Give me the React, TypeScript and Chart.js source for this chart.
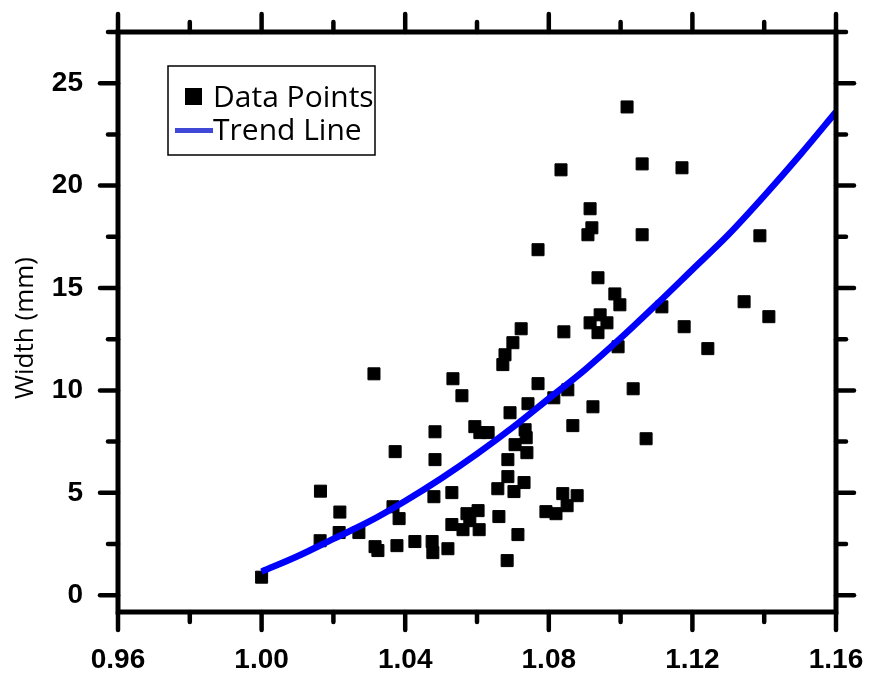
import React, { useEffect, useRef } from "react";
import { Chart, registerables } from "chart.js";

Chart.register(...registerables);

// ---- data ----
const pointX = [
  1.0, 1.0164, 1.0163, 1.0218, 1.0216, 1.0271, 1.0313, 1.0316, 1.0324, 1.0372,
  1.0366, 1.0377, 1.0383, 1.0427, 1.0475, 1.0477, 1.048, 1.0483, 1.0483, 1.0519,
  1.053, 1.053, 1.0533, 1.0558, 1.0572, 1.0603, 1.058, 1.0561, 1.0606, 1.0594,
  1.0608, 1.0631, 1.0658, 1.0661, 1.0672, 1.0678, 1.07, 1.0684, 1.0686, 1.0686,
  1.0692, 1.0703, 1.0714, 1.0706, 1.0723, 1.0734, 1.0731, 1.0737, 1.0739, 1.0742,
  1.077, 1.077, 1.0792, 1.0814, 1.082, 1.0834, 1.0842, 1.0839, 1.0851, 1.0853,
  1.0867, 1.0879, 1.0909, 1.0915, 1.092, 1.0915, 1.0923, 1.0937, 1.0937, 1.0943,
  1.0962, 1.0984, 1.0993, 1.0998, 1.1018, 1.1035, 1.106, 1.106, 1.1071, 1.1115,
  1.1171, 1.1177, 1.1243, 1.1344, 1.1388, 1.1413,
];
const pointY = [
  0.88, 5.08, 2.66, 4.06, 3.06, 3.06, 10.81, 2.37, 2.18, 7.01,
  4.32, 2.42, 3.74, 2.62, 2.62, 2.08, 4.81, 6.62, 7.98, 2.27,
  3.45, 5.01, 10.57, 9.74, 3.98, 4.13, 3.64, 3.2, 3.2, 8.23,
  7.94, 7.94, 5.2, 3.84, 11.26, 11.74, 12.33, 1.69, 5.79, 6.62,
  8.91, 5.06, 2.96, 7.35, 13.01, 8.08, 5.5, 7.69, 6.96, 9.35,
  10.33, 16.87, 4.08, 9.64, 3.98, 20.77, 12.86, 4.96, 4.37, 10.03,
  8.28, 4.86, 17.6, 18.87, 17.94, 13.3, 9.2, 15.5, 12.82, 13.69,
  13.3, 14.71, 12.13, 14.18, 23.84, 10.08, 21.06, 17.6, 7.64, 14.08,
  20.87, 13.11, 12.04, 14.33, 17.55, 13.6,
];
const trendX = [
  1.0, 1.01, 1.02, 1.03, 1.04, 1.05, 1.06, 1.07, 1.08,
  1.09, 1.1, 1.11, 1.12, 1.13, 1.14, 1.15, 1.16,
];
const trendY = [
  1.15, 1.9, 2.75, 3.6, 4.6, 5.7, 6.9, 8.2, 9.6,
  11.0, 12.55, 14.2, 15.9, 17.6, 19.5, 21.5, 23.6,
];
const seriesLabels = ["Data Points", "Trend Line"];
const yTitle = "Width (mm)";
const xRange = [0.96, 1.16];
const yRange = [-0.82, 27.5];
const xTicks = [0.96, 1.0, 1.04, 1.08, 1.12, 1.16];
const xMinorTicks = [0.98, 1.02, 1.06, 1.1, 1.14];
const yTicks = [0, 5, 10, 15, 20, 25];
const yMinorTicks = [2.5, 7.5, 12.5, 17.5, 22.5, 27.5];

const W = 857;
const H = 671;

const framePlugin = {
  id: "frame",
  afterDraw(chart: any) {
    const { ctx, chartArea: a, scales } = chart;
    const x = scales.x;
    const y = scales.y;
    ctx.save();
    ctx.strokeStyle = "#000";
    ctx.lineWidth = 5;
    ctx.lineCap = "butt";
    ctx.strokeRect(a.left, a.top, a.right - a.left, a.bottom - a.top);

    ctx.lineWidth = 4.5;
    ctx.lineCap = "round";
    const seg = (x1: number, y1: number, x2: number, y2: number) => {
      ctx.beginPath();
      ctx.moveTo(x1, y1);
      ctx.lineTo(x2, y2);
      ctx.stroke();
    };
    const MAJ = 18;
    const MIN = 10;
    xTicks.forEach((v) => {
      const p = x.getPixelForValue(v);
      seg(p, a.bottom, p, a.bottom + MAJ);
      seg(p, a.top, p, a.top - MAJ);
    });
    xMinorTicks.forEach((v) => {
      const p = x.getPixelForValue(v);
      seg(p, a.bottom, p, a.bottom + MIN);
      seg(p, a.top, p, a.top - MIN);
    });
    yTicks.forEach((v) => {
      const p = y.getPixelForValue(v);
      seg(a.left, p, a.left - MAJ, p);
      seg(a.right, p, a.right + MAJ, p);
    });
    yMinorTicks.forEach((v) => {
      const p = y.getPixelForValue(v);
      seg(a.left, p, a.left - MIN, p);
      seg(a.right, p, a.right + MIN, p);
    });

    // y-axis title
    ctx.save();
    ctx.translate(25, (a.top + a.bottom) / 2 + 6);
    ctx.rotate(-Math.PI / 2);
    ctx.fillStyle = "#000";
    ctx.font = '26px "Open Sans", sans-serif';
    ctx.textAlign = "center";
    ctx.textBaseline = "alphabetic";
    ctx.fillText(yTitle, 0, 0);
    ctx.restore();

    // legend
    const lx = 160, ly = 58, lw = 207, lh = 89;
    ctx.fillStyle = "#fff";
    ctx.fillRect(lx, ly, lw, lh);
    ctx.lineWidth = 1.5;
    ctx.lineCap = "butt";
    ctx.strokeStyle = "#000";
    ctx.strokeRect(lx, ly, lw, lh);
    ctx.fillStyle = "#000";
    ctx.fillRect(177, 80, 17, 17);
    ctx.strokeStyle = "#4048d8";
    ctx.lineWidth = 5;
    seg(167, 122.5, 205, 122.5);
    ctx.fillStyle = "#000";
    ctx.font = '30px "Open Sans", sans-serif';
    ctx.textAlign = "left";
    ctx.textBaseline = "alphabetic";
    ctx.fillText(seriesLabels[0], 205, 99);
    ctx.fillText(seriesLabels[1], 205, 132);
    ctx.restore();
  },
};

const zeroPad = (s: any) => {
  s.paddingLeft = 0;
  s.paddingRight = 0;
  s.paddingTop = 0;
  s.paddingBottom = 0;
};

export default function App() {
  const ref = useRef<HTMLCanvasElement | null>(null);
  useEffect(() => {
    if (!ref.current) return;
    const tickFont = { family: '"Liberation Sans", Arial, sans-serif', size: 28, weight: "bold" as const };
    const chart = new Chart(ref.current, {
      type: "scatter",
      data: {
        datasets: [
          {
            label: seriesLabels[0],
            data: pointX.map((v, i) => ({ x: v, y: pointY[i] })),
            pointStyle: "rect",
            pointRadius: 8.5,
            pointBorderWidth: 1,
            backgroundColor: "#000",
            borderColor: "#000",
            showLine: false,
            order: 1,
          },
          {
            label: seriesLabels[1],
            data: trendX.map((v, i) => ({ x: v, y: trendY[i] })),
            showLine: true,
            borderColor: "#0000ff",
            borderWidth: 6.5,
            pointRadius: 0,
            cubicInterpolationMode: "monotone",
            order: 0,
          } as any,
        ],
      },
      options: {
        responsive: false,
        animation: false,
        devicePixelRatio: 1,
        layout: { padding: { top: 24, right: W - 828, left: 0, bottom: 0 } },
        plugins: { legend: { display: false }, tooltip: { enabled: false } },
        scales: {
          x: {
            type: "linear",
            position: "bottom",
            min: xRange[0],
            max: xRange[1],
            grid: { display: false, drawTicks: false },
            border: { display: false },
            ticks: {
              font: tickFont,
              color: "#000",
              padding: 31,
              maxRotation: 0,
              autoSkip: false,
              callback: (v: any) => Number(v).toFixed(2),
            },
            afterBuildTicks: (s: any) => {
              s.ticks = xTicks.map((v) => ({ value: v }));
            },
            afterFit: (s: any) => {
              s.height = H - 604;
              zeroPad(s);
            },
          },
          y: {
            type: "linear",
            position: "left",
            min: yRange[0],
            max: yRange[1],
            grid: { display: false, drawTicks: false },
            border: { display: false },
            ticks: {
              font: tickFont,
              color: "#000",
              padding: 35,
              autoSkip: false,
              callback: (v: any) => String(v),
            },
            afterBuildTicks: (s: any) => {
              s.ticks = yTicks.map((v) => ({ value: v }));
            },
            afterFit: (s: any) => {
              s.width = 110;
              zeroPad(s);
            },
          },
        },
      },
      plugins: [framePlugin],
    });
    return () => chart.destroy();
  }, []);
  return (
    <div>
      <canvas ref={ref} width={W} height={H} style={{ display: "block", width: W, height: H }} />
    </div>
  );
}
